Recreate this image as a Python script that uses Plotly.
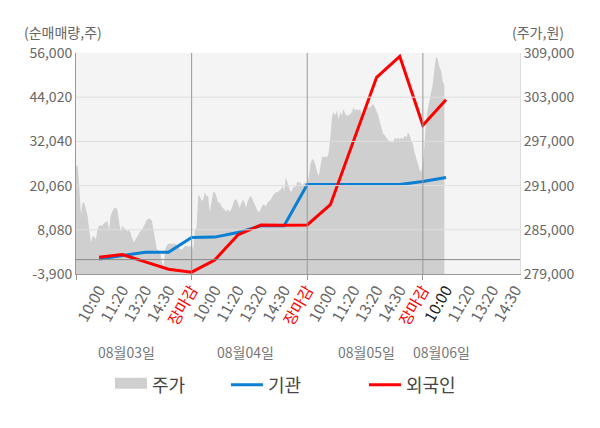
import plotly.graph_objects as go
import numpy as np

# 장중 주가 (원) - 일자별 샘플
day1_price = [293700, 293700, 290800, 287100, 288700, 288700, 287800, 286900, 285000, 283300,
              284100, 284100, 283700, 285000, 285600, 285600, 285600, 285900, 286000, 286200,
              285000, 286900, 287500, 287900, 288000, 287800, 286200, 284800, 285500, 285300,
              285000, 284800, 285000, 284600, 283900, 283300, 283700, 284100, 284400, 284800,
              285000, 285500, 286000, 286400, 286500, 286500, 286200, 285000, 283300, 282300,
              282200, 281900, 280700, 279900, 282300, 282900, 283100, 283100, 283100, 283100,
              283100, 282900, 282600, 282400, 282300, 282600, 282800, 282800, 282800, 282700]
day2_price = [283000, 282300, 285000, 285300, 289700, 289600, 288900, 289100, 290100, 289600,
              289600, 287400, 288700, 290100, 290100, 289600, 288700, 288700, 288200, 288000,
              287800, 287500, 287800, 287400, 287800, 288400, 289100, 289100, 288700, 288000,
              288700, 289100, 288700, 288000, 288900, 289400, 289600, 289100, 288700, 288000,
              287500, 287400, 287800, 288400, 288400, 288200, 288700, 288900, 289100, 289600,
              289800, 290100, 290100, 290300, 290500, 290900, 290300, 292100, 291400, 290800,
              290100, 290500, 290900, 290800, 291600, 291400, 291400, 290900, 291400, 291400]
day3_price = [291400, 292300, 294000, 294600, 294400, 293800, 292800, 292300, 293800, 295000,
              294800, 295000, 294800, 295500, 297600, 300300, 301000, 300500, 301200, 300000,
              301000, 300500, 301400, 300700, 300500, 300500, 300700, 301000, 301600, 301200,
              301400, 301200, 301400, 300500, 301000, 301200, 301400, 301600, 301600, 301900,
              302100, 301600, 301000, 300500, 299600, 298700, 298000, 297800, 297500, 297100,
              296900, 296900, 296900, 297500, 297300, 297500, 297300, 297500, 297300, 297800,
              297500, 298200, 297800, 297100, 296600, 295500, 294600, 293900, 293200, 292800]
day4_price = [293900, 296600, 300000, 301400, 302500, 303700, 304800, 306900, 308500, 308200,
              307100, 306600, 305200, 304600]
samples_per_day = 70

# 기관 / 외국인 누적 순매매량 (주)
flow_slot = list(range(1, 17))
inst = [190, 1060, 2015, 2015, 6000, 6100, 7350, 9175, 9175, 20340,
        20340, 20340, 20340, 20340, 21155, 22245]
foreign = [650, 1400, -600, -2600, -3400, -100, 6700, 9400, 9300, 9400,
           14900, 31900, 49400, 55100, 36400, 43300]

time_labels = ["10:00", "11:20", "13:20", "14:30", "장마감"] * 3 + ["10:00", "11:20", "13:20", "14:30"]
dates = ["08월03일", "08월04일", "08월05일", "08월06일"]
date_slot = [2.2, 7.35, 12.55, 15.8]

flow_ticks = [-3900, 8080, 20060, 32040, 44020, 56000]
price_ticks = [279000, 285000, 291000, 297000, 303000, 309000]

FONT = "Noto Sans CJK KR"
GRAY_AREA = "#cfcfcf"

# x 위치: 하루 = 5칸
price_x, price_y = [], []
for d, prices in enumerate([day1_price, day2_price, day3_price, day4_price]):
    price_x += list(d * 5 + np.arange(len(prices)) * 5 / samples_per_day)
    price_y += prices

ticktext = []
for i, t in enumerate(time_labels):
    if t == "장마감":
        ticktext.append('<span style="color:#ff0000">장마감</span>')
    elif i == 15:
        ticktext.append('<span style="color:#222222">10:00</span>')
    else:
        ticktext.append(t)

fig = go.Figure()

fig.add_trace(go.Scatter(
    x=price_x, y=price_y, yaxis="y", name="주가", showlegend=False,
    mode="lines", fill="tozeroy", fillcolor=GRAY_AREA,
    line=dict(width=0, color=GRAY_AREA)
))
# 범례용 (주가 상자)
fig.add_trace(go.Scatter(
    x=[None], y=[None], yaxis="y", name="주가", mode="lines", fill="tozeroy",
    fillcolor=GRAY_AREA, line=dict(width=14, color=GRAY_AREA), legendwidth=69
))
fig.add_trace(go.Scatter(
    x=flow_slot, y=inst, yaxis="y2", name="기관",
    mode="lines", line=dict(width=3, color="#0a7fd3"), legendwidth=91
))
fig.add_trace(go.Scatter(
    x=flow_slot, y=foreign, yaxis="y2", name="외국인",
    mode="lines", line=dict(width=3, color="#ff0000")
))

shapes = []
# 가로 격자
for v in flow_ticks[1:-1]:
    shapes.append(dict(type="line", xref="paper", x0=0, x1=1, yref="y2", y0=v, y1=v,
                       line=dict(color="#dedede", width=1), layer="above"))
# 0 기준선
shapes.append(dict(type="line", xref="paper", x0=0, x1=1, yref="y2", y0=0, y1=0,
                   line=dict(color="#8a8a8a", width=1), layer="above"))
# 일자 구분선
for s in [5, 10, 15]:
    shapes.append(dict(type="line", xref="x", x0=s, x1=s, yref="paper", y0=0, y1=1,
                       line=dict(color="#999999", width=1), layer="above"))

annotations = [
    dict(text="(순매매량,주)", xref="paper", yref="paper", x=-0.122, y=1.095,
         xanchor="left", yanchor="middle", showarrow=False, font=dict(size=14, color="#666666")),
    dict(text="(주가,원)", xref="paper", yref="paper", x=0.977, y=1.095,
         xanchor="left", yanchor="middle", showarrow=False, font=dict(size=14, color="#666666")),
]
for d, s in zip(dates, date_slot):
    annotations.append(dict(text=d, xref="x", yref="paper", x=s, y=-0.353,
                            xanchor="center", yanchor="middle", showarrow=False,
                            font=dict(size=14, color="#777777")))

fig.update_layout(
    width=600, height=428,
    margin=dict(l=76, r=80, t=53, b=154, autoexpand=False),
    paper_bgcolor="white", plot_bgcolor="#f4f4f4",
    font=dict(family=FONT, color="#666666"),
    xaxis=dict(range=[0, 19.2], tickvals=list(range(1, 20)), ticktext=ticktext,
               tickangle=-60, tickfont=dict(size=15.5, color="#666666"), automargin=False,
               showgrid=False, zeroline=False, showline=True, linecolor="#999999",
               ticks="", minor=dict(tickmode="array", tickvals=[0, 5, 10, 15], ticks="outside",
                                    ticklen=5, tickcolor="#999999")),
    yaxis=dict(range=[279000, 309000], side="right", tickvals=price_ticks, automargin=False,
               ticktext=[f"{v:,}" for v in price_ticks], tickfont=dict(size=14, color="#666666"),
               showgrid=False, zeroline=False, showline=True, linecolor="#dddddd", ticks=""),
    yaxis2=dict(range=[-3900, 56000], side="left", overlaying="y", tickvals=flow_ticks,
                ticktext=[f"{v:,}" for v in flow_ticks], tickfont=dict(size=14, color="#666666"),
                automargin=False,
                showgrid=False, zeroline=False, showline=True, linecolor="#999999", ticks=""),
    legend=dict(orientation="h", x=0.0765, y=-0.502, xanchor="left", yanchor="middle",
                font=dict(size=18, color="#444444"), itemwidth=32, bgcolor="rgba(0,0,0,0)"),
    shapes=shapes, annotations=annotations,
)

fig.write_html("out.html", config={"displayModeBar": False},
               post_script="document.body.style.margin='0';")
